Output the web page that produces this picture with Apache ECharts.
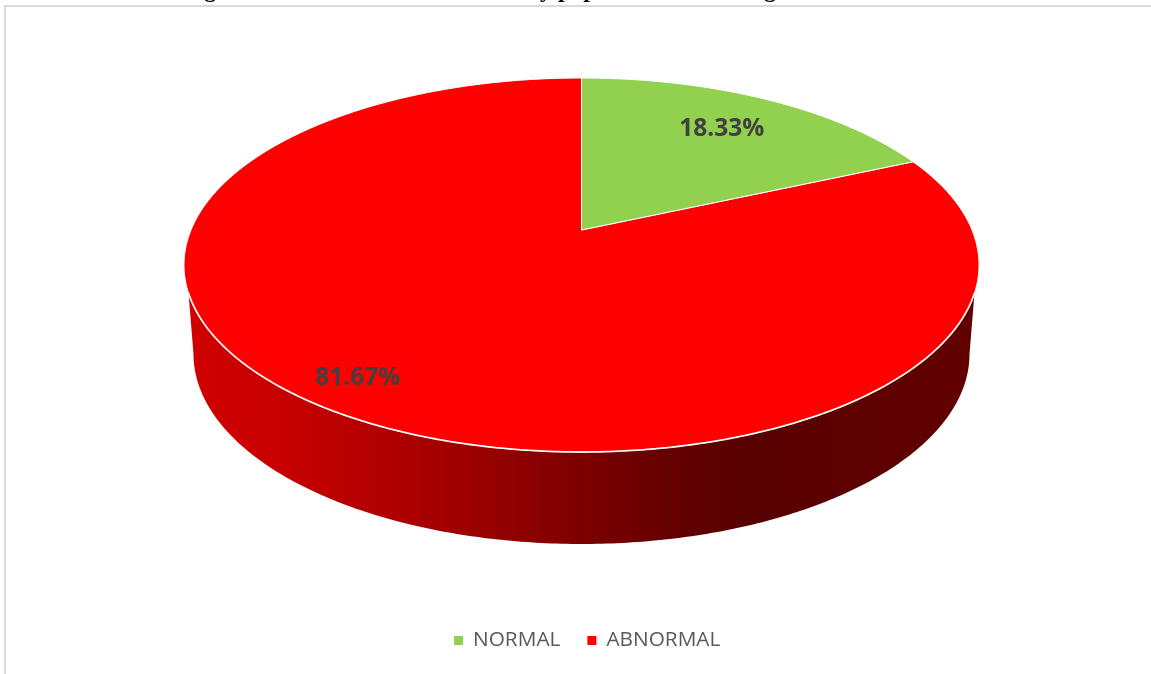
<!DOCTYPE html>
<html>
<head>
<meta charset="utf-8">
<style>html,body{margin:0;padding:0;background:#fff;overflow:hidden}#c{width:1151px;height:674px}</style>
<script src="https://cdn.jsdelivr.net/npm/echarts@6/dist/echarts.min.js"></script>
</head>
<body>
<div id="c"></div>
<script>
var categories = ['NORMAL', 'ABNORMAL'];
var seriesValues = [18.33, 81.67];
var sliceColors = ['#92D050', '#FF0000'];
var titleText = 'Figure 13 : Distribution of the study population according';

// Tilted-disc geometry (style constants)
var cx = 581.5, cy = 265, rx = 397.5, ry = 187, tilt = 0.187;
var baseCy = 354, baseRx = 388, baseRy = 190;
var labelRadius = [0.755, 0.861];
var labelTurn = [-0.014, 0.04];
var labelDrop = 2;
var total = seriesValues.reduce(function (a, b) { return a + b; }, 0);

// Perspective projection of a disc point (r, clockwise angle from 12 o'clock)
function project(r, a) {
  var x = r * Math.sin(a), y = r * Math.cos(a);
  var d = 1 + tilt * y;
  return [cx + rx * x * Math.sqrt(1 - tilt * tilt) / d, cy - ry * (y + tilt) / d];
}
function ringPoints(a0, a1) {
  var pts = [project(0, 0)], n = Math.max(8, Math.round((a1 - a0) * 90));
  for (var i = 0; i <= n; i++) pts.push(project(1, a0 + (a1 - a0) * i / n));
  return pts;
}
function frontEdge() {
  var pts = [], e = Math.asin(0.15), i, t;
  for (i = 0; i <= 240; i++) {
    t = Math.PI - e + (-(Math.PI - 2 * e)) * i / 240;
    pts.push([cx + rx * Math.cos(t), cy + ry * Math.sin(t)]);
  }
  return pts;
}
function baseEdge() {
  var pts = [], i, t;
  for (i = 0; i <= 240; i++) {
    t = Math.PI * i / 240;
    pts.push([cx + baseRx * Math.cos(t), baseCy + baseRy * Math.sin(t)]);
  }
  return pts;
}
var wallGradient = {
  type: 'linear', x: 186, y: 0, x2: 977, y2: 0, global: true,
  colorStops: [
    { offset: 0, color: '#d00000' },
    { offset: 0.106, color: '#c80000' },
    { offset: 0.21, color: '#b80000' },
    { offset: 0.317, color: '#a50000' },
    { offset: 0.464, color: '#840000' },
    { offset: 0.637, color: '#600000' },
    { offset: 0.713, color: '#580000' },
    { offset: 1, color: '#620000' }
  ]
};

function makeRender(idx) {
  return function (params, api) {
    var before = 0;
    for (var i = 0; i < idx; i++) before += seriesValues[i];
    var v = api.value(0);
    var a0 = before / total * 2 * Math.PI, a1 = (before + v) / total * 2 * Math.PI;
    var children = [];
    if (idx === 1) {
      children.push({
        type: 'polygon',
        shape: { points: frontEdge().concat(baseEdge()) },
        style: { fill: wallGradient, stroke: null }
      });
    }
    children.push({
      type: 'polygon',
      shape: { points: ringPoints(a0, a1) },
      style: { fill: sliceColors[idx], stroke: '#ffffff', lineWidth: 1, lineJoin: 'round' }
    });
    if (idx === 1) {
      children.push({
        type: 'polyline',
        shape: { points: frontEdge() },
        style: { fill: null, stroke: '#ffffff', lineWidth: 1.8, opacity: 0.85 }
      });
    }
    var mid = project(labelRadius[idx], (a0 + a1) / 2 + labelTurn[idx]);
    children.push({
      type: 'text',
      z2: 50,
      style: {
        text: v.toFixed(2) + '%', x: mid[0], y: mid[1] + labelDrop, align: 'center', verticalAlign: 'middle',
        fill: '#404040', fontFamily: 'Open Sans', fontWeight: 'bold', fontSize: 24.5
      }
    });
    return { type: 'group', children: children };
  };
}

var chart = echarts.init(document.getElementById('c'));
chart.setOption({
  animation: false,
  backgroundColor: '#ffffff',
  title: {
    text: titleText, left: 183, top: -21, padding: 0,
    textStyle: { fontFamily: 'Liberation Serif', fontWeight: 'bold', fontSize: 24, color: '#000000' }
  },
  legend: {
    data: categories, left: 454, top: 630, orient: 'horizontal', padding: 0,
    icon: 'rect', itemWidth: 9, itemHeight: 9, itemGap: 27, selectedMode: false,
    textStyle: { fontFamily: 'Open Sans', fontSize: 20.8, color: '#595959', padding: [0, 0, 0, 5] }
  },
  graphic: [{
    type: 'rect', silent: true, z: -1,
    shape: { x: 5, y: 6, width: 1200, height: 720 },
    style: { fill: null, stroke: '#d9d9d9', lineWidth: 2 }
  }],
  series: categories.map(function (name, i) {
    return {
      type: 'custom', name: name, coordinateSystem: 'none', silent: true,
      itemStyle: { color: sliceColors[i] },
      data: [[seriesValues[i]]],
      renderItem: makeRender(i),
      z: i === 1 ? 2 : 3
    };
  })
});
</script>
</body>
</html>
